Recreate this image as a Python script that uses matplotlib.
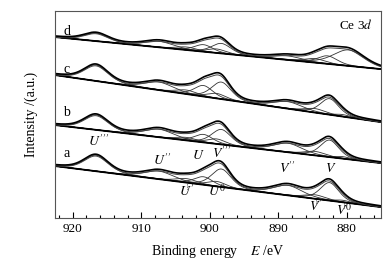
import numpy as np
import matplotlib.pyplot as plt

plt.rcParams['font.family'] = ['Liberation Serif', 'DejaVu Serif']
plt.rcParams['mathtext.fontset'] = 'stix'

# peak centres (eV): U''', U'', U', U, U0, V''', V'', V', V, V0
names = ["U'''", "U''", "U'", "U", "U^0", "V'''", "V''", "V'", "V", "V^0"]
centers = [916.6, 907.4, 903.4, 900.9, 899.0, 898.3, 888.6, 884.6, 882.5, 880.6]
fwhm = [4.2, 5.0, 3.6, 3.2, 3.2, 3.4, 5.0, 3.6, 3.2, 2.8]

# peak heights (a.u.) per sample
heights_a = [16, 8, 4, 8, 5, 18, 10, 4, 18, 2]
heights_b = [15, 8, 3, 8, 5, 15, 9, 4, 17, 2]
heights_c = [16, 8, 4, 11, 5, 17, 7, 4, 16, 2]
heights_d = [8, 6, 3, 7, 4, 10, 4, 4, 8, 16]
centers_d = [916.6, 907.4, 903.4, 900.9, 899.0, 898.3, 888.6, 884.6, 882.8, 879.7]
fwhm_d = [4.2, 5.0, 3.6, 3.2, 3.2, 3.4, 5.0, 3.6, 3.4, 5.4]

# linear background end points (at 922.6 eV and 875 eV)
bg_left = [52, 93, 143, 181]
bg_right = [11, 55, 96, 149]
labels = ['a', 'b', 'c', 'd']
label_y = [65, 106, 149, 187]

E = np.linspace(922.6, 875.0, 800)


def peak(x, c, w, h, eta=0.4):
    g = np.exp(-4 * np.log(2) * ((x - c) / w) ** 2)
    l = 1.0 / (1.0 + 4 * ((x - c) / w) ** 2)
    return h * (eta * l + (1 - eta) * g)


fig = plt.figure(figsize=(3.89, 2.64), dpi=100)
ax = fig.add_axes([0.1414, 0.174, 0.8377, 0.784])

sets = [
    (heights_a, centers, fwhm),
    (heights_b, centers, fwhm),
    (heights_c, centers, fwhm),
    (heights_d, centers_d, fwhm_d),
]

for i, (hs, cs, ws) in enumerate(sets):
    bg = bg_left[i] + (bg_right[i] - bg_left[i]) * (E - E[0]) / (E[-1] - E[0])
    total = np.zeros_like(E)
    for c, w, h in zip(cs, ws, hs):
        comp = peak(E, c, w, h)
        total += comp
        ax.plot(E, bg + comp, color='#333333', lw=0.6)
    ax.plot(E, bg, color='black', lw=1.3)
    ax.plot(E, bg + total * 0.96 - 0.6, color='#444444', lw=0.7)
    ax.plot(E, bg + total + 0.6, color='black', lw=1.2)
    ax.text(921.4, label_y[i], labels[i], fontsize=10, ha='left', va='center')

# peak labels on spectrum a
bga = lambda x: bg_left[0] + (bg_right[0] - bg_left[0]) * (x - 922.6) / (875.0 - 922.6)
upper = {"U'''": (916.2, 69), "U''": (907.0, 50), "U": (901.6, 56), "V'''": (898.2, 57),
         "V''": (888.6, 42), "V": (882.3, 43)}
for n, (x, y) in upper.items():
    ax.text(x, y, '$' + n + '$', fontsize=10, ha='center', va='bottom')

lower = {"U'": (903.3, 19), "U^0": (899.0, 19), "V'": (884.5, 4), "V^0": (880.4, 0)}
for n, (x, y) in lower.items():
    ax.plot([x, x], [bga(x) - 1, y + 10], color='black', lw=0.6, ls=':')
    ax.text(x, y, '$' + n + '$', fontsize=10, ha='center', va='bottom')

ax.text(0.975, 0.965, 'Ce 3$d$', transform=ax.transAxes, fontsize=9.5,
        ha='right', va='top')

ax.set_xlim(922.6, 875.0)
ax.set_ylim(0, 207)
ax.set_xticks([920, 910, 900, 890, 880])
ax.set_xticks(np.arange(876, 923, 2), minor=True)
ax.tick_params(axis='x', which='major', direction='in', length=4, labelsize=9.5, width=0.8)
ax.tick_params(axis='x', which='minor', direction='in', length=2, width=0.8)
ax.set_yticks([])
for sp in ax.spines.values():
    sp.set_linewidth(0.8)
    sp.set_color('#555555')

ax.set_xlabel('Binding energy    $E$ /eV', fontsize=10, labelpad=6)
ax.set_ylabel('Intensity /(a.u.)', fontsize=10, labelpad=12)

fig.savefig('out.png', dpi=100)
